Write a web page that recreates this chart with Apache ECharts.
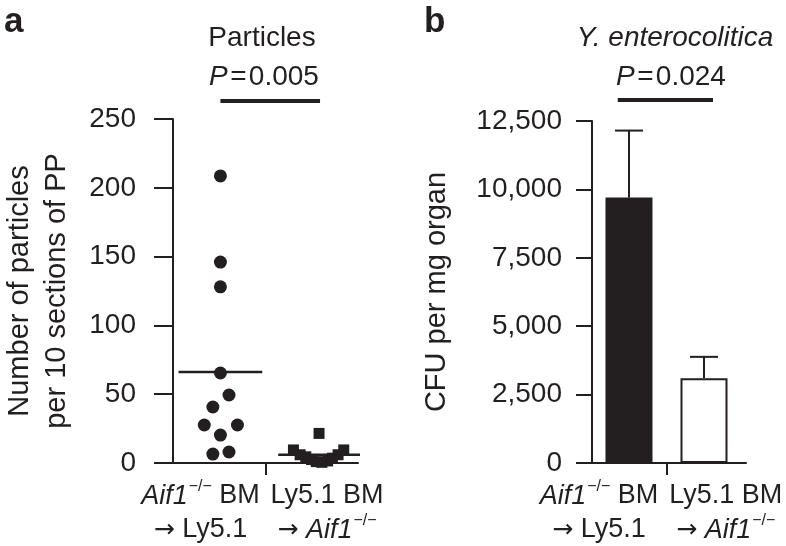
<!DOCTYPE html>
<html><head><meta charset="utf-8">
<script src="https://cdn.jsdelivr.net/npm/echarts@6/dist/echarts.min.js"></script>
<style>html,body{margin:0;padding:0;background:#fff}#c{width:786px;height:546px}</style>
</head><body><div id="c"></div>
<script>
// ---- data ----
const groupPositions = [1, 2];
const categoryLabels = [
  '{it|Aif1}{sup|−/−}{n| BM}\n{ar|→}{n| Ly5.1}',
  '{n|Ly5.1 BM}\n{ar|→}{n| }{it|Aif1}{sup|−/−}'
];
const particlesGroup1 = [208.6, 146, 128, 65.4, 49.4, 40.7, 27.6, 27.6, 20.3, 6.5, 8];
const particlesGroup1Jitter = [0, 0, 0, 0, 0.086, -0.076, -0.162, 0.171, 0, -0.076, 0.086];
const particlesGroup2 = [21.5, 9.5, 6, 4.5, 2.5, 1, 0.5, 1.5, 3.5, 6, 9.5];
const particlesGroup2Jitter = [-0.01, -0.267, -0.2, -0.143, -0.086, -0.038, 0.019, 0.076, 0.124, 0.181, 0.238];
const particleTicks = [0, 50, 100, 150, 200, 250];
const cfuMeans = [9700, 3100];
const cfuErrors = [2450, 780];
const cfuTicks = [0, 2500, 5000, 7500, 10000, 12500];
const pValues = ['0.005', '0.024'];
const panelTitles = ['Particles', 'Y. enterocolitica'];
const yNames = ['Number of particles\nper 10 sections of PP', 'CFU per mg organ'];

// ---- styles ----
const INK = '#231f20';
const FF = '"Liberation Sans", Arial, Helvetica, sans-serif';
const FS = 28;
const LFS = 27;
const mean = a => a.reduce((s, v) => s + v, 0) / a.length;
const richLabel = {
  n: { fontSize: LFS, fontFamily: FF, color: INK, lineHeight: 34 },
  it: { fontSize: LFS, fontFamily: FF, color: INK, fontStyle: 'italic', lineHeight: 34 },
  ar: { fontSize: 25, fontFamily: '"DejaVu Sans", sans-serif', color: INK, lineHeight: 34 },
  sup: { fontSize: 16, fontFamily: FF, color: INK, verticalAlign: 'top', lineHeight: 34, padding: [0, 0, 0, 1] }
};
const axisLineStyle = { color: INK, width: 2 };

function xAxisCfg(gridIndex, min, max, tickAt, labelAt) {
  return {
    type: 'value', gridIndex, min, max,
    axisLine: { show: true, lineStyle: axisLineStyle },
    axisTick: { show: true, length: 12, lineStyle: { color: INK, width: 2 }, customValues: [tickAt] },
    splitLine: { show: false },
    axisLabel: {
      customValues: labelAt, margin: 16, align: 'center',
      formatter: (v) => { const i = labelAt.findIndex(p => Math.abs(p - v) < 1e-6); return i >= 0 ? categoryLabels[i] : ''; },
      rich: richLabel
    }
  };
}
function yAxisCfg(gridIndex, ticks, name, nameGap, fmt, tickLen, labelMargin) {
  return {
    type: 'value', gridIndex, min: ticks[0], max: ticks[ticks.length - 1], interval: ticks[1] - ticks[0],
    name, nameLocation: 'middle', nameGap,
    nameTextStyle: { fontSize: 29, fontFamily: FF, color: INK, lineHeight: 37 },
    axisLine: { show: true, lineStyle: axisLineStyle },
    axisTick: { show: true, length: tickLen, lineStyle: { color: INK, width: 2 } },
    splitLine: { show: false },
    axisLabel: { margin: labelMargin, fontSize: FS, fontFamily: FF, color: INK, formatter: fmt }
  };
}

const chart = echarts.init(document.getElementById('c'), null, { renderer: 'canvas' });
const m1 = mean(particlesGroup1), m2 = mean(particlesGroup2);
const meanHalf = 0.42;

const option = {
  animation: false,
  backgroundColor: '#fff',
  grid: [
    { left: 163, right: 428, top: 119, bottom: 83 },
    { left: 592, right: 40, top: 121, bottom: 83 }
  ],
  xAxis: [
    xAxisCfg(0, 0.524, 2.381, 1.45, [0.8, 2.07]),
    xAxisCfg(1, 0.507, 2.56, 1.5, [0.6, 2.29])
  ],
  yAxis: [
    yAxisCfg(0, particleTicks, yNames[0], 98, v => String(v), 19, 37),
    yAxisCfg(1, cfuTicks, yNames[1], 137, v => v.toLocaleString('en-US'), 16, 30)
  ],
  graphic: [
    { type: 'text', x: 4, y: 22, style: { text: 'a', font: 'bold 35px ' + FF, fill: INK, verticalAlign: 'middle' } },
    { type: 'text', x: 262, y: 38, style: { text: panelTitles[0], font: FS + 'px ' + FF, fill: INK, align: 'center', verticalAlign: 'middle' } },
    { type: 'text', x: 264, y: 77, style: { text: '{i|P}{n|\u200a=\u200a' + pValues[0] + '}', align: 'center', verticalAlign: 'middle',
        rich: { i: { font: 'italic ' + FS + 'px ' + FF, fill: INK }, n: { font: FS + 'px ' + FF, fill: INK } } } },
    { type: 'text', x: 424, y: 22, style: { text: 'b', font: 'bold 35px ' + FF, fill: INK, verticalAlign: 'middle' } },
    { type: 'text', x: 675, y: 38, style: { text: panelTitles[1], font: 'italic ' + FS + 'px ' + FF, fill: INK, align: 'center', verticalAlign: 'middle' } },
    { type: 'text', x: 671, y: 77, style: { text: '{i|P}{n|\u200a=\u200a' + pValues[1] + '}', align: 'center', verticalAlign: 'middle',
        rich: { i: { font: 'italic ' + FS + 'px ' + FF, fill: INK }, n: { font: FS + 'px ' + FF, fill: INK } } } }
  ],
  series: [
    { type: 'scatter', xAxisIndex: 0, yAxisIndex: 0, symbol: 'circle', symbolSize: 13,
      itemStyle: { color: INK, opacity: 1 }, data: particlesGroup1.map((v, i) => [groupPositions[0] + particlesGroup1Jitter[i], v]) },
    { type: 'scatter', xAxisIndex: 0, yAxisIndex: 0, symbol: 'rect', symbolSize: 11,
      itemStyle: { color: INK, opacity: 1 }, data: particlesGroup2.map((v, i) => [groupPositions[1] + particlesGroup2Jitter[i], v]) },
    { type: 'line', xAxisIndex: 0, yAxisIndex: 0, symbol: 'none', clip: false, z: 1,
      lineStyle: { color: INK, width: 2.5 }, data: [[groupPositions[0] - meanHalf, m1], [groupPositions[0] + meanHalf, m1]] },
    { type: 'line', xAxisIndex: 0, yAxisIndex: 0, symbol: 'none', clip: false, z: 1,
      lineStyle: { color: INK, width: 2.5 }, data: [[groupPositions[1] - meanHalf, m2], [groupPositions[1] + meanHalf, m2]] },
    { type: 'line', xAxisIndex: 0, yAxisIndex: 0, symbol: 'none', clip: false,
      lineStyle: { color: INK, width: 4 }, data: [[groupPositions[0], 263], [groupPositions[1], 263]] },
    { type: 'bar', xAxisIndex: 1, yAxisIndex: 1, barWidth: 47,
      data: [
        { value: [groupPositions[0], cfuMeans[0]], itemStyle: { color: INK, borderColor: INK, borderWidth: 2 } },
        { value: [groupPositions[1], cfuMeans[1]], itemStyle: { color: '#fff', borderColor: INK, borderWidth: 2 } }
      ] },
    { type: 'custom', xAxisIndex: 1, yAxisIndex: 1, z: 3,
      encode: { x: 0, y: 1 },
      data: cfuMeans.map((m, i) => [groupPositions[i], m, cfuErrors[i]]),
      renderItem: (params, api) => {
        const x = api.value(0), m = api.value(1), e = api.value(2);
        const b = api.coord([x, m]), t = api.coord([x, m + e]);
        const hw = 14;
        return { type: 'group', children: [
          { type: 'line', shape: { x1: b[0], y1: b[1], x2: t[0], y2: t[1] }, style: { stroke: INK, lineWidth: 2 } },
          { type: 'line', shape: { x1: t[0] - hw, y1: t[1], x2: t[0] + hw, y2: t[1] }, style: { stroke: INK, lineWidth: 2 } }
        ] };
      } },
    { type: 'line', xAxisIndex: 1, yAxisIndex: 1, symbol: 'none', clip: false,
      lineStyle: { color: INK, width: 4 }, data: [[groupPositions[0] - 0.15, 13268], [groupPositions[1] + 0.12, 13268]] }
  ]
};
chart.setOption(option);
</script>
</body></html>
